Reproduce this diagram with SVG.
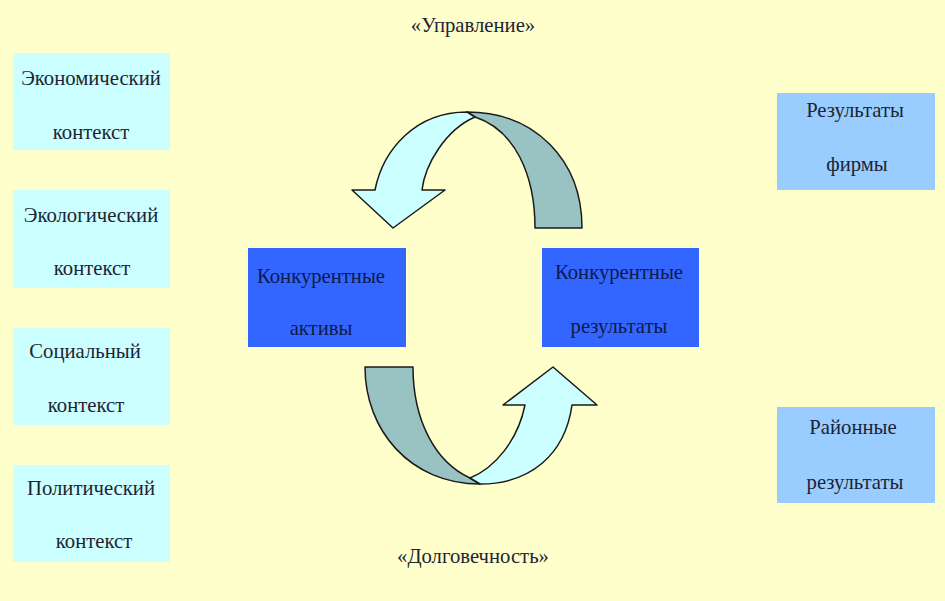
<svg xmlns="http://www.w3.org/2000/svg" width="945" height="601" viewBox="0 0 945 601">
<style>
text{font-family:"Liberation Serif","Times New Roman",serif;font-size:20.7px;fill:#1c2433;text-anchor:middle}
.ctx{fill:#ccffff}
.res{fill:#99ccff}
.core{fill:#3366ff}
.core text{fill:#0d1a4d}
.light{fill:#ccffff;stroke:#1a1a1a;stroke-width:1.5;stroke-linejoin:round}
.dark{fill:#99c2c2;stroke:#1a1a1a;stroke-width:1.5;stroke-linejoin:round}
</style>
<rect width="945" height="601" fill="#ffffcc"/>
<g id="label-top"><text x="473" y="32">«Управление»</text></g>
<g id="label-bottom"><text x="473" y="563">«Долговечность»</text></g>
<g id="econ"><rect class="ctx" x="13" y="53" width="157" height="97"/><text x="91" y="85">Экономический</text><text x="91" y="139">контекст</text></g>
<g id="ecol"><rect class="ctx" x="13" y="190" width="157" height="98"/><text x="91" y="222">Экологический</text><text x="92" y="275">контекст</text></g>
<g id="soc"><rect class="ctx" x="13" y="328" width="157" height="97"/><text x="85" y="358">Социальный</text><text x="86" y="412">контекст</text></g>
<g id="pol"><rect class="ctx" x="13" y="465" width="157" height="97"/><text x="91" y="495">Политический</text><text x="94" y="548">контекст</text></g>
<g id="firm"><rect class="res" x="777" y="93" width="158" height="97"/><text x="855" y="117">Результаты</text><text x="857" y="171">фирмы</text></g>
<g id="region"><rect class="res" x="777" y="407" width="158" height="96"/><text x="853" y="434">Районные</text><text x="855" y="489">результаты</text></g>
<g id="assets" class="core"><rect x="248" y="248" width="158" height="99"/><text x="321" y="283">Конкурентные</text><text x="321" y="335">активы</text></g>
<g id="results" class="core"><rect x="542" y="248" width="157" height="99"/><text x="619" y="279">Конкурентные</text><text x="619" y="333">результаты</text></g>
<g id="connectors">
<path class="dark" d="M467,112 C535,112 582,160 582,228 L535,228 C535,175 515,130 475,117 Z"/>
<path class="light" d="M375,190 C383,150 415,112 467,112 L475,117 C445,130 425,165 422,190 L445,190 L393,228 L352,190 Z"/>
<path class="dark" d="M365,367 L413,367 C413,420 435,462 470,478 L480,484 C410,484 365,430 365,367 Z"/>
<path class="light" d="M470,478 C495,468 518,440 525,405 L503,405 L553,367 L597,405 L572,405 C565,455 530,484 480,484 Z"/>
</g>
</svg>
